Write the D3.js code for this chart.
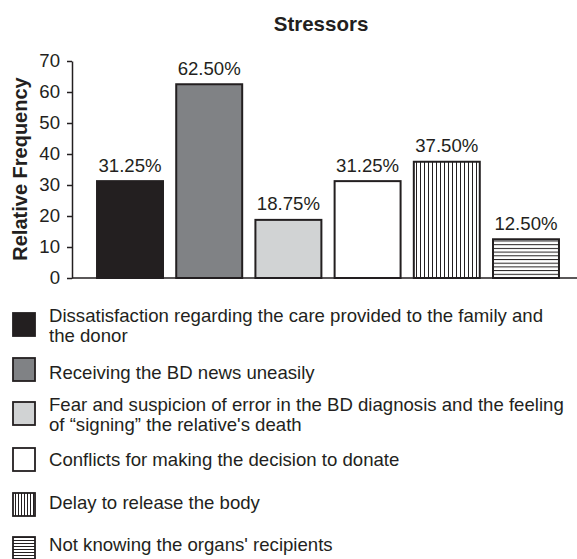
<!DOCTYPE html>
<html>
<head>
<meta charset="utf-8">
<script src="https://cdn.jsdelivr.net/npm/d3@7"></script>
<style>
  html, body { margin: 0; padding: 0; background: #fff; }
  svg { display: block; }
  text { font-family: "Liberation Sans", Arial, sans-serif; fill: #231f20; }
</style>
</head>
<body>
<svg id="chart" width="577" height="559"></svg>
<script>
// ---- data ----
const categories = [
  "Dissatisfaction regarding the care provided to the family and\nthe donor",
  "Receiving the BD news uneasily",
  "Fear and suspicion of error in the BD diagnosis and the feeling\nof \u201Csigning\u201D the relative's death",
  "Conflicts for making the decision to donate",
  "Delay to release the body",
  "Not knowing the organs' recipients"
];
const values = [31.25, 62.50, 18.75, 31.25, 37.50, 12.50];
const valueLabels = ["31.25%", "62.50%", "18.75%", "31.25%", "37.50%", "12.50%"];
const yTicks = [0, 10, 20, 30, 40, 50, 60, 70];
const title = "Stressors";
const yTitle = "Relative Frequency";

// ---- styles ----
const fills = ["#231f20", "#808285", "#d1d3d4", "#ffffff", "url(#vstripe)", "url(#hstripe)"];
const legendFills = ["#231f20", "#808285", "#d1d3d4", "#ffffff", "url(#vstripeS)", "url(#hstripeS)"];
const ink = "#231f20";
const fs = "18.6px";

const svg = d3.select("#chart");
const defs = svg.append("defs");
function stripes(id, vertical, step) {
  const p = defs.append("pattern").attr("id", id).attr("patternUnits", "userSpaceOnUse")
    .attr("width", vertical ? step : 10).attr("height", vertical ? 10 : step);
  p.append("rect").attr("width", vertical ? step : 10).attr("height", vertical ? 10 : step).attr("fill", "#fff");
  if (vertical) p.append("rect").attr("x", 0).attr("y", 0).attr("width", 1).attr("height", 10).attr("fill", ink);
  else p.append("rect").attr("x", 0).attr("y", 0).attr("width", 10).attr("height", 1).attr("fill", ink);
}
stripes("vstripe", true, 4);
stripes("hstripe", false, 3.7);
stripes("vstripeS", true, 3);
stripes("hstripeS", false, 3);

// ---- scales ----
const y = d3.scaleLinear().domain([0, 70]).range([278, 61]);
const x = d3.scaleBand().domain(d3.range(values.length)).range([72, 584])
  .paddingInner(0.167).paddingOuter(0.316);

// title
svg.append("text").attr("x", 321).attr("y", 31).attr("text-anchor", "middle")
  .style("font-weight", "bold").style("font-size", "20.5px").text(title);

// y title
svg.append("text").attr("transform", "translate(26.5,169) rotate(-90)")
  .attr("text-anchor", "middle").style("font-weight", "bold").style("font-size", "20px").text(yTitle);

// bars
svg.append("g").selectAll("rect").data(values).join("rect")
  .attr("x", (d, i) => x(i))
  .attr("y", d => y(d))
  .attr("width", x.bandwidth())
  .attr("height", d => y(0) - y(d))
  .attr("fill", (d, i) => fills[i])
  .attr("stroke", ink).attr("stroke-width", 2);

// value labels
svg.append("g").selectAll("text").data(values).join("text")
  .attr("x", (d, i) => x(i) + x.bandwidth() / 2)
  .attr("y", d => y(d) - 9.5)
  .attr("text-anchor", "middle").style("font-size", fs)
  .text((d, i) => valueLabels[i]);

// y axis
const yAxis = svg.append("g").attr("transform", "translate(72,0)")
  .call(d3.axisLeft(y).tickValues(yTicks).tickFormat(d3.format("d")).tickSize(5).tickSizeOuter(0).tickPadding(7));
yAxis.select(".domain").attr("stroke", ink).attr("stroke-width", 1.5);
yAxis.selectAll(".tick line").attr("stroke", ink).attr("stroke-width", 1.5);
yAxis.selectAll(".tick text").style("font-size", fs).style("font-family", "'Liberation Sans', Arial, sans-serif").attr("fill", ink);

// x baseline
svg.append("line").attr("x1", 72).attr("x2", 577).attr("y1", y(0)).attr("y2", y(0))
  .attr("stroke", ink).attr("stroke-width", 1.5);

// legend (layout)
const legendTextY = [322, 379, 411, 466, 509, 551];
const legendBoxY = [313, 358, 402, 448, 493, 537];
const lg = svg.append("g");
categories.forEach((c, i) => {
  lg.append("rect").attr("x", 13).attr("y", legendBoxY[i]).attr("width", 22).attr("height", 23)
    .attr("fill", legendFills[i]).attr("stroke", ink).attr("stroke-width", 1.8);
  const t = lg.append("text").attr("x", 49).attr("y", legendTextY[i]).style("font-size", fs);
  c.split("\n").forEach((line, j) => {
    t.append("tspan").attr("x", 49).attr("dy", j === 0 ? 0 : 19.5).text(line);
  });
});
</script>
</body>
</html>
